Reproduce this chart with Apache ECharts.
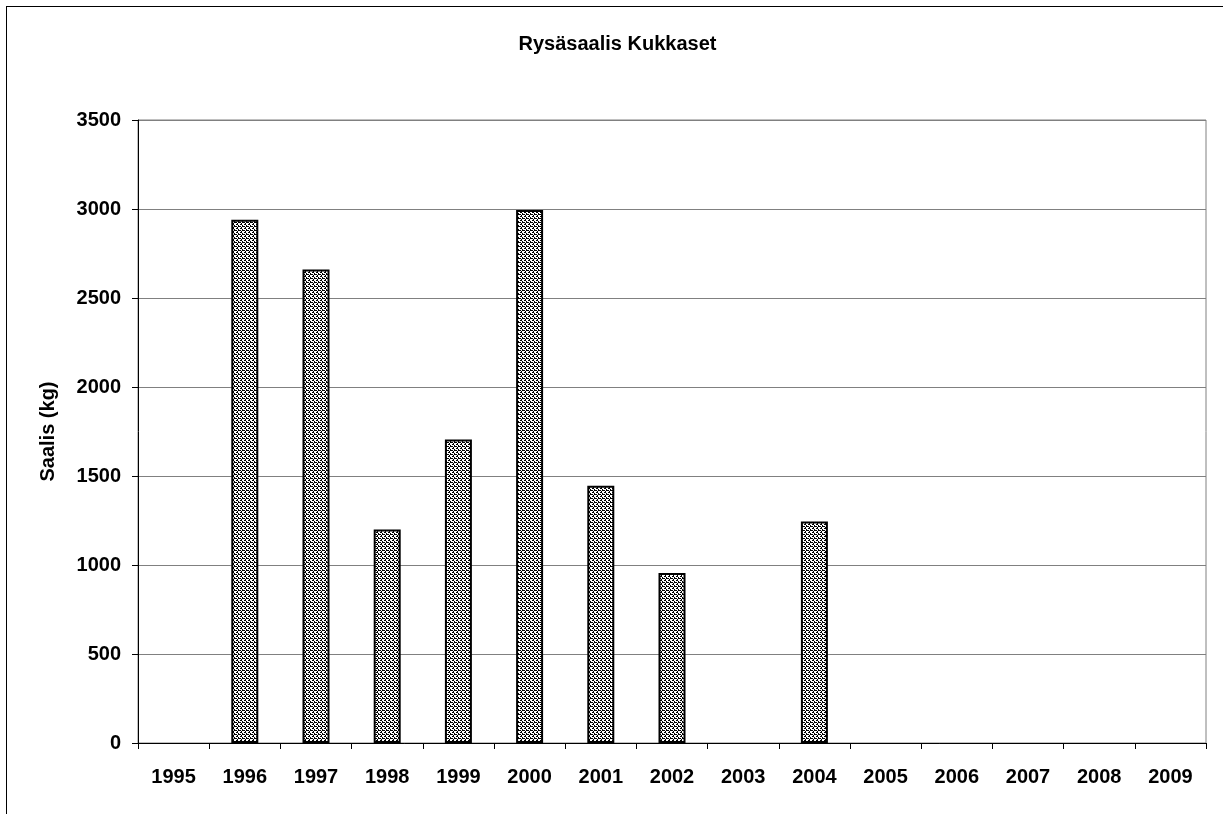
<!DOCTYPE html>
<html>
<head>
<meta charset="utf-8">
<script src="https://cdn.jsdelivr.net/npm/echarts@6/dist/echarts.min.js"></script>
<style>
  html, body { margin: 0; padding: 0; overflow: hidden; background: #fff; }
  #frame {
    position: absolute; left: 6px; top: 6px;
    width: 1223px; height: 900px;
    border: 1px solid #000; box-sizing: border-box;
  }
  #main { position: absolute; left: 0; top: 0; width: 1235px; height: 814px; }
</style>
</head>
<body>
<div id="frame"></div>
<div id="main"></div>
<script>
// catch per year (kg)
const years = ['1995', '1996', '1997', '1998', '1999', '2000', '2001', '2002',
  '2003', '2004', '2005', '2006', '2007', '2008', '2009'];
const catchKg = [null, 2940, 2660, 1200, 1705, 2995, 1445, 955,
  null, 1245, null, null, null, null, null];
const yTicks = [0, 500, 1000, 1500, 2000, 2500, 3000, 3500];

// dotted fill like the excel pattern
function makePattern() {
  const c = document.createElement('canvas');
  c.width = 4;
  c.height = 4;
  const ctx = c.getContext('2d');
  ctx.fillStyle = '#fff';
  ctx.fillRect(0, 0, 4, 4);
  ctx.fillStyle = '#000';
  [[0, 0], [1, 0], [2, 1], [0, 2], [2, 2], [3, 2], [1, 3]].forEach(function (p) {
    ctx.fillRect(p[0], p[1], 1, 1);
  });
  return c;
}

const labelFont = {
  fontFamily: '"Liberation Sans", Arial, sans-serif',
  fontWeight: 'bold',
  fontSize: 20,
  color: '#000'
};

const chart = echarts.init(document.getElementById('main'), null, { renderer: 'canvas' });
chart.setOption({
  animation: false,
  title: {
    text: 'Rysäsaalis Kukkaset',
    left: 'center',
    top: 29,
    textStyle: Object.assign({}, labelFont, { fontSize: 20 })
  },
  grid: {
    left: 138,
    right: 29,
    top: 120,
    bottom: 71,
    show: true,
    borderColor: '#808080',
    borderWidth: 1,
    containLabel: false
  },
  xAxis: {
    type: 'category',
    data: years,
    boundaryGap: true,
    axisLine: { lineStyle: { color: '#000', width: 1 } },
    axisTick: { show: true, inside: false, length: 6, alignWithLabel: false, lineStyle: { color: '#000' } },
    axisLabel: Object.assign({ margin: 24, interval: 0 }, labelFont),
    splitLine: { show: false }
  },
  yAxis: {
    type: 'value',
    min: yTicks[0],
    max: yTicks[yTicks.length - 1],
    interval: 500,
    name: 'Saalis (kg)',
    nameLocation: 'middle',
    nameGap: 80,
    nameTextStyle: labelFont,
    axisLine: { show: true, lineStyle: { color: '#000', width: 1 } },
    axisTick: { show: true, length: 6, lineStyle: { color: '#000' } },
    axisLabel: Object.assign({ margin: 17, formatter: function (v) { return String(v); } }, labelFont),
    splitLine: { show: true, lineStyle: { color: '#808080', width: 1 } }
  },
  series: [{
    type: 'bar',
    data: catchKg,
    barWidth: 27,
    itemStyle: {
      color: { image: makePattern(), repeat: 'repeat' },
      borderColor: '#000',
      borderWidth: 2
    }
  }]
});
</script>
</body>
</html>
